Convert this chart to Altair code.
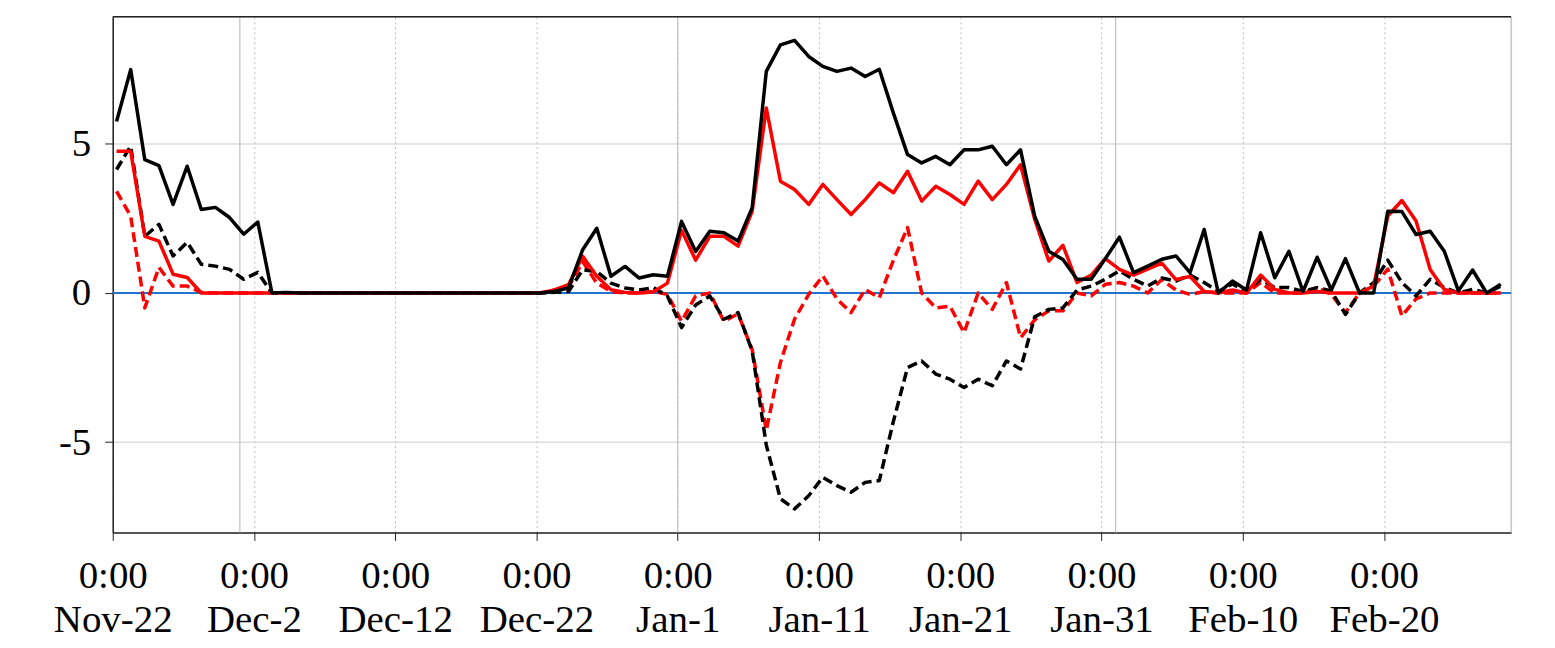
import altair as alt
import pandas as pd

# ---- data ----
start_time = "2022-11-22T06:30:00"   # first sample, daily thereafter

black_solid = [5.75, 7.49, 4.47, 4.27, 2.97, 4.25, 2.80, 2.87, 2.53, 1.97,
               2.38, 0.0, 0.02, 0, 0, 0, 0, 0, 0, 0,
               0, 0, 0, 0, 0, 0, 0, 0, 0, 0,
               0, 0.05, 0.17, 1.45, 2.17, 0.56, 0.89, 0.5, 0.61, 0.56,
               2.4, 1.39, 2.07, 2.02, 1.74, 2.86, 7.43, 8.32, 8.47, 7.93,
               7.6, 7.43, 7.54, 7.26, 7.5, 6.03, 4.64, 4.36, 4.58, 4.3,
               4.8, 4.8, 4.92, 4.3, 4.8, 2.58, 1.4, 1.12, 0.46, 0.46,
               1.15, 1.87, 0.68, 0.9, 1.13, 1.24, 0.68, 2.13, 0.0, 0.4,
               0.1, 2.02, 0.51, 1.4, 0.05, 1.2, 0.1, 1.15, 0.0, 0.0,
               2.74, 2.73, 1.96, 2.07, 1.4, 0.07, 0.77, 0.0, 0.29]

red_solid = [4.75, 4.75, 1.9, 1.74, 0.63, 0.52, 0.0, 0, 0, 0,
             0, 0, 0, 0, 0, 0, 0, 0, 0, 0,
             0, 0, 0, 0, 0, 0, 0, 0, 0, 0,
             0, 0.1, 0.28, 1.23, 0.56, 0.11, 0.02, 0.0, 0.03, 0.33,
             2.1, 1.1, 1.9, 1.9, 1.57, 2.74, 6.2, 3.75, 3.47, 2.97,
             3.64, 3.13, 2.63, 3.13, 3.69, 3.36, 4.08, 3.08, 3.58, 3.3,
             2.97, 3.75, 3.13, 3.64, 4.3, 2.47, 1.07, 1.6, 0.35, 0.6,
             1.15, 0.79, 0.6, 0.8, 1.0, 0.45, 0.55, 0.05, 0.0, 0.1,
             0.0, 0.6, 0.12, 0.0, 0.0, 0.05, 0.0, 0.0, 0.0, 0.23,
             2.58, 3.1, 2.41, 0.79, 0.12, 0.0, 0.0, 0.0, 0.0]

black_dashed = [4.14, 4.92, 1.9, 2.3, 1.24, 1.7, 0.96, 0.9, 0.79, 0.46,
                0.69, 0.0, 0, 0, 0, 0, 0, 0, 0, 0,
                0, 0, 0, 0, 0, 0, 0, 0, 0, 0,
                0, 0.02, 0.05, 0.78, 0.72, 0.33, 0.17, 0.1, 0.18, -0.1,
                -1.16, -0.4, -0.1, -0.88, -0.66, -1.94, -5.1, -6.9, -7.24, -6.8,
                -6.18, -6.46, -6.68, -6.35, -6.29, -4.3, -2.5, -2.28, -2.72, -2.89,
                -3.17, -2.89, -3.11, -2.28, -2.55, -0.8, -0.55, -0.5, 0.1, 0.23,
                0.46, 0.74, 0.46, 0.23, 0.5, 0.4, 0.6, 0.35, 0.05, 0.3,
                0.05, 0.46, 0.18, 0.18, 0.05, 0.18, 0.07, -0.72, 0.0, 0.35,
                1.1, 0.35, -0.1, 0.46, 0.18, 0.0, 0.12, 0.0, 0.23]

red_dashed = [3.41, 2.58, -0.5, 0.86, 0.23, 0.23, 0.02, 0, 0, 0,
              0, 0, 0, 0, 0, 0, 0, 0, 0, 0,
              0, 0, 0, 0, 0, 0, 0, 0, 0, 0,
              0, 0.1, 0.2, 1.05, 0.33, 0.05, 0.0, 0.0, 0.05, -0.05,
              -0.95, -0.1, 0.0, -0.95, -0.7, -1.9, -4.6, -2.33, -0.88, -0.05,
              0.57, -0.2, -0.66, 0.12, -0.16, 1.1, 2.19, 0.0, -0.5, -0.44,
              -1.33, 0.0, -0.55, 0.35, -1.5, -0.9, -0.6, -0.6, 0.0, -0.1,
              0.29, 0.35, 0.23, 0.0, 0.45, 0.1, -0.05, 0.05, 0.0, 0.0,
              0.0, 0.35, 0.0, 0.0, 0.0, 0.18, -0.05, -0.66, 0.0, 0.23,
              0.8, -0.77, -0.2, 0.0, 0.0, 0.0, 0.0, 0.0, 0.0]

tick_dates = [(2022, 11, 22), (2022, 12, 2), (2022, 12, 12), (2022, 12, 22),
              (2023, 1, 1), (2023, 1, 11), (2023, 1, 21), (2023, 1, 31),
              (2023, 2, 10), (2023, 2, 20)]
month_starts = ["2022-12-01T00:00:00", "2023-01-01T00:00:00",
                "2023-02-01T00:00:00", "2023-03-01T00:00:00"]
y_ticks = [-5, 0, 5]
x_domain = [(2022, 11, 22), (2023, 3, 1)]
y_domain = [-8.03, 9.26]

# ---- build tables ----
dates = pd.date_range(start_time, periods=len(black_solid), freq="D").strftime("%Y-%m-%dT%H:%M:%S")

def series_df(vals):
    return pd.DataFrame({"date": list(dates), "value": vals})

W, H = 1402, 517
FONT = "Liberation Serif"
FS = 39

xscale = alt.Scale(domain=[alt.DateTime(year=y, month=m, date=d) for y, m, d in x_domain], nice=False)
yscale = alt.Scale(domain=y_domain, nice=False, zero=False)

x_axis = alt.Axis(
    values=[alt.DateTime(year=y, month=m, date=d) for y, m, d in tick_dates],
    labelExpr="['0:00', timeFormat(datum.value, '%b') + '-' + date(datum.value)]",
    title=None, grid=True, gridDash=[2, 3], gridColor="#bdbdbd", gridWidth=1,
    labelFont=FONT, labelFontSize=FS, labelColor="black", labelLineHeight=44,
    labelPadding=16, tickSize=8, tickColor="#222", domainColor="#222", domainWidth=1.5,
    labelOverlap=False, labelFlush=False,
)
y_axis = alt.Axis(
    values=y_ticks, title=None, grid=True, gridColor="#cccccc", gridWidth=1,
    labelExpr="datum.value < 0 ? '-' + abs(datum.value) : '' + datum.value",
    labelFont=FONT, labelFontSize=FS, labelColor="black", labelPadding=14,
    tickSize=8, tickColor="#222", domainColor="#222", domainWidth=1.5,
)

month_df = pd.DataFrame({"date": month_starts})
months = alt.Chart(month_df).mark_rule(color="#c0c0c0", strokeWidth=1.2).encode(
    x=alt.X("date:T", scale=xscale, axis=x_axis)
)

zero_df = pd.DataFrame({"value": [0]})
zero = alt.Chart(zero_df).mark_rule(color="#1f74d0", strokeWidth=2).encode(
    y=alt.Y("value:Q", scale=yscale, axis=y_axis)
)

def line(vals, color, dash=None):
    kw = dict(color=color, strokeWidth=3.5, clip=True, strokeJoin="round")
    if dash:
        kw["strokeDash"] = dash
    return alt.Chart(series_df(vals)).mark_line(**kw).encode(
        x=alt.X("date:T", scale=xscale, axis=x_axis),
        y=alt.Y("value:Q", scale=yscale, axis=y_axis),
    )

top = alt.Chart(zero_df).mark_rule(color="#222", strokeWidth=1.5).encode(
    x=alt.value(0), x2=alt.value(W), y=alt.value(0)
)

chart = alt.layer(
    months,
    zero,
    line(red_dashed, "#ff0000", [10, 5]),
    line(black_dashed, "#000000", [10, 5]),
    line(red_solid, "#ff0000"),
    line(black_solid, "#000000"),
    top,
).properties(
    width=W, height=H,
    autosize=alt.AutoSizeParams(type="none"),
    padding={"left": 105, "top": 8, "right": 36, "bottom": 110},
).configure_view(stroke=None).configure(background="white")

chart.save("out.html", embed_options={"renderer": "svg", "actions": False})
